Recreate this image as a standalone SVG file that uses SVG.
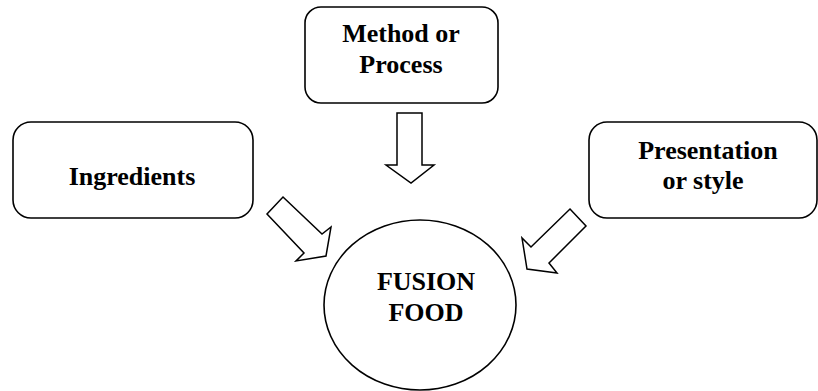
<svg xmlns="http://www.w3.org/2000/svg" width="818" height="391" viewBox="0 0 818 391">
<style>
.box{fill:#fff;stroke:#000;stroke-width:1.6}
.arr{fill:#fff;stroke:#000;stroke-width:1.5;stroke-linejoin:miter}
.t{font-family:"Liberation Serif","Times New Roman",serif;font-weight:bold;font-size:26px;fill:#000;text-anchor:middle}
</style>
<rect width="818" height="391" fill="#fff"/>
<g id="method">
<rect class="box" x="305" y="7" width="193" height="96" rx="16"/>
<text class="t" x="401" y="42">Method or</text>
<text class="t" x="401" y="73">Process</text>
</g>
<g id="ingredients">
<rect class="box" x="13" y="122" width="240" height="96" rx="18"/>
<text class="t" x="132" y="185">Ingredients</text>
</g>
<g id="presentation">
<rect class="box" x="589" y="122" width="228" height="96" rx="18"/>
<text class="t" x="708" y="159">Presentation</text>
<text class="t" x="703" y="189">or style</text>
</g>
<g id="fusion">
<ellipse class="box" cx="420" cy="305" rx="96" ry="85"/>
<text class="t" x="426" y="290">FUSION</text>
<text class="t" x="426" y="321">FOOD</text>
</g>
<g id="connectors">
<polygon class="arr" points="397,113 422,113 422,165 434,165 411,183 386,165 397,165"/>
<polygon class="arr" points="283,197 322,234 331,227 326,256 296,261 304,253 267,214"/>
<polygon class="arr" points="570,209 586,226 549,263 557,273 527,269 522,238 531,247"/>
</g>
</svg>
